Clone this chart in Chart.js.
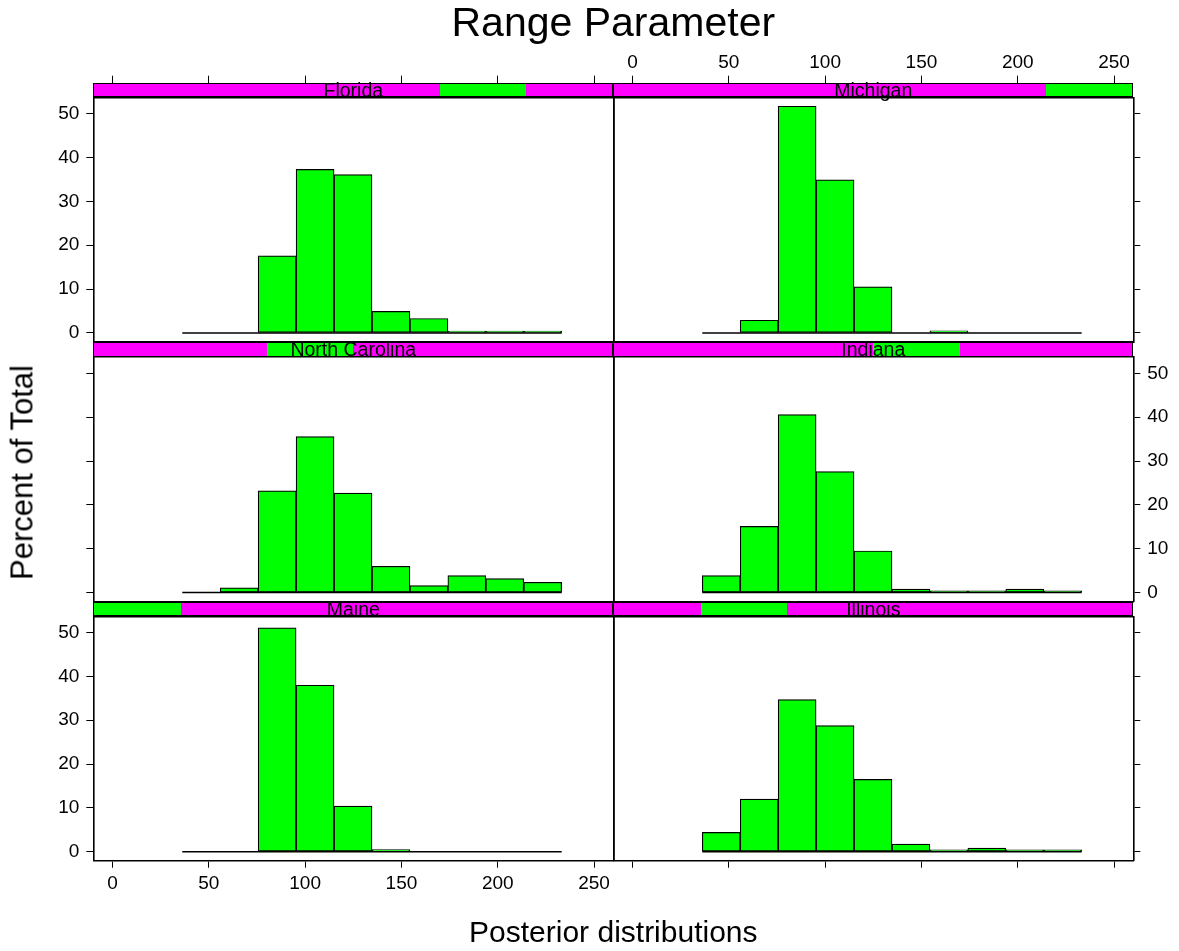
<!DOCTYPE html>
<html>
<head>
<meta charset="utf-8">
<script src="https://cdn.jsdelivr.net/npm/chart.js@4.4.1/dist/chart.umd.min.js"></script>
<style>
html, body { margin: 0; padding: 0; background: #ffffff; }
#wrap { position: relative; width: 1179px; height: 951px; overflow: hidden;
        font-family: "Liberation Sans", Arial, Helvetica, sans-serif; color: #000; }
#wrap canvas { position: absolute; left: 0; top: 0; }
.strip { position: absolute; box-sizing: border-box; background: #ff00ff; border: 1px solid #000; z-index: 5; }
.strip .hl { position: absolute; top: 0; bottom: 0; background: #00ff00; }
.strip .lab { position: absolute; left: 0; right: 0; top: -1px; text-align: center; font-size: 19.5px;
              white-space: nowrap; color: #000; }
.txt { position: absolute; white-space: nowrap; line-height: 1; color: #000; z-index: 6; }
</style>
</head>
<body>
<div id="wrap">
  <div class="txt" id="title" style="left:93.3px; width:1040px; top:2px; text-align:center; font-size:41px;">Range Parameter</div>
  <div class="txt" id="xlab" style="left:93.3px; width:1040px; top:916.6px; text-align:center; font-size:30px;">Posterior distributions</div>
  <div class="txt" id="ylab" style="left:-127.7px; width:300px; top:456.5px; text-align:center; font-size:31px; transform: rotate(-90deg); transform-origin: 150px 15.5px; height:31px;">Percent of Total</div>
</div>
<script>
// ---------------- data ----------------
const states = ['Maine', 'Illinois', 'North Carolina', 'Indiana', 'Florida', 'Michigan'];
const binEdges = [36.2, 55.9, 75.6, 95.3, 115.0, 134.7, 154.4, 174.1, 193.8, 213.5, 233.2];
const maine         = [0,   0,    51.1, 38.0, 10.4, 0.45, 0,   0,   0,   0];
const illinois      = [4.4, 12.0, 34.7, 28.8, 16.5, 1.7,  0.4, 0.8, 0.4, 0.4];
const northCarolina = [0,   1.1,  23.2, 35.6, 22.7, 6.0,  1.6, 3.9, 3.2, 2.35];
const indiana       = [3.9, 15.1, 40.6, 27.6, 9.5,  0.8,  0.4, 0.4, 0.8, 0.4];
const florida       = [0,   0,    17.6, 37.3, 36.1, 4.9,  3.3, 0.4, 0.4, 0.4];
const michigan      = [0,   2.9,  51.7, 34.9, 10.5, 0,    0.45, 0,  0,   0];
const xTicks = [0, 50, 100, 150, 200, 250];
const yTicks = [0, 10, 20, 30, 40, 50];
const xLimits = [-10, 260];
const yLimits = [-2.07, 53.74];

// ---------------- layout ----------------
const W = 1179, H = 951;
const FONT = '"Liberation Sans", Arial, Helvetica, sans-serif';
const STRIP = 14.6;
const cols = [{ L: 93.3, R: 613.3 }, { L: 613.3, R: 1133.3 }];
const rows = [{ T: 97.3, B: 342 }, { T: 357, B: 601.7 }, { T: 616.3, B: 860.7 }];
const LW = 60, RW = 40, TH = STRIP + 40, BH = 40;
const TICK = 7;

const panels = [
  { state: 'Florida',        values: florida,       r: 0, c: 0 },
  { state: 'Michigan',       values: michigan,      r: 0, c: 1 },
  { state: 'North Carolina', values: northCarolina, r: 1, c: 0 },
  { state: 'Indiana',        values: indiana,       r: 1, c: 1 },
  { state: 'Maine',          values: maine,         r: 2, c: 0 },
  { state: 'Illinois',       values: illinois,      r: 2, c: 1 }
];

const wrap = document.getElementById('wrap');
const tickFont = { family: FONT, size: 19 };

function xAxis(pos, ticksOn, labelsOn, size) {
  return {
    type: 'linear', position: pos, min: xLimits[0], max: xLimits[1], offset: false,
    afterBuildTicks: s => { s.ticks = xTicks.map(v => ({ value: v })); },
    afterFit: s => { s.height = size; },
    grid: { display: true, drawOnChartArea: false, drawTicks: ticksOn, offset: false,
            tickLength: pos === 'top' ? STRIP + TICK : TICK, tickWidth: 1, tickColor: '#000' },
    border: { display: true, color: '#000', width: 1.6 },
    ticks: { display: labelsOn, font: tickFont, color: '#000', padding: pos === 'top' ? 2 : 5,
             maxRotation: 0, minRotation: 0, autoSkip: false }
  };
}
function yAxis(pos, ticksOn, labelsOn, size) {
  return {
    type: 'linear', position: pos, min: yLimits[0], max: yLimits[1],
    afterBuildTicks: s => { s.ticks = yTicks.map(v => ({ value: v })); },
    afterFit: s => { s.width = size; },
    grid: { display: true, drawOnChartArea: false, drawTicks: ticksOn,
            tickLength: TICK, tickWidth: 1, tickColor: '#000' },
    border: { display: true, color: '#000', width: 1.6 },
    ticks: { display: labelsOn, font: tickFont, color: '#000', padding: 7, autoSkip: false }
  };
}

const centers = binEdges.slice(0, -1).map((e, i) => (e + binEdges[i + 1]) / 2);

panels.forEach(p => {
  const col = cols[p.c], row = rows[p.r];
  const canvas = document.createElement('canvas');
  canvas.width = W; canvas.height = H;
  canvas.style.width = W + 'px'; canvas.style.height = H + 'px';
  wrap.appendChild(canvas);

  const leftT = p.c === 0, leftL = p.c === 0 && p.r !== 1;
  const rightT = p.c === 1, rightL = p.c === 1 && p.r === 1;
  const topT = p.r === 0, topL = p.r === 0 && p.c === 1;
  const botT = p.r === 2, botL = p.r === 2 && p.c === 0;

  new Chart(canvas, {
    type: 'bar',
    data: {
      datasets: [
        { type: 'line', xAxisID: 'x', yAxisID: 'y',
          data: [{ x: binEdges[0], y: 0 }, { x: binEdges[binEdges.length - 1], y: 0 }],
          borderColor: '#000', borderWidth: 1.5, pointRadius: 0, tension: 0, order: 0 },
        { type: 'bar', xAxisID: 'x', yAxisID: 'y',
          data: p.values.map((v, i) => ({ x: centers[i], y: v })),
          backgroundColor: '#00ff00', borderColor: '#000', borderWidth: 1.2, borderSkipped: false,
          barPercentage: 1, categoryPercentage: 1, order: 1 }
      ]
    },
    options: {
      responsive: false, animation: false, devicePixelRatio: 1, events: [],
      layout: { padding: { left: col.L - LW, right: W - col.R - RW, top: row.T - TH, bottom: H - row.B - BH } },
      plugins: { legend: { display: false }, tooltip: { enabled: false }, title: { display: false } },
      scales: {
        x: xAxis('bottom', botT, botL, BH),
        x2: xAxis('top', topT, topL, TH),
        y: yAxis('left', leftT, leftL, LW),
        y2: yAxis('right', rightT, rightL, RW)
      }
    }
  });

  // strip
  const strip = document.createElement('div');
  strip.className = 'strip';
  strip.style.left = col.L + 'px';
  strip.style.top = (row.T - STRIP) + 'px';
  strip.style.width = (col.R - col.L) + 'px';
  strip.style.height = STRIP + 'px';
  const lvl = states.indexOf(p.state);
  const hl = document.createElement('div');
  hl.className = 'hl';
  hl.style.left = (lvl / states.length * 100) + '%';
  hl.style.width = (100 / states.length) + '%';
  strip.appendChild(hl);
  const lab = document.createElement('div');
  lab.className = 'lab';
  lab.style.lineHeight = STRIP + 'px';
  lab.textContent = p.state;
  strip.appendChild(lab);
  wrap.appendChild(strip);
});
</script>
</body>
</html>
